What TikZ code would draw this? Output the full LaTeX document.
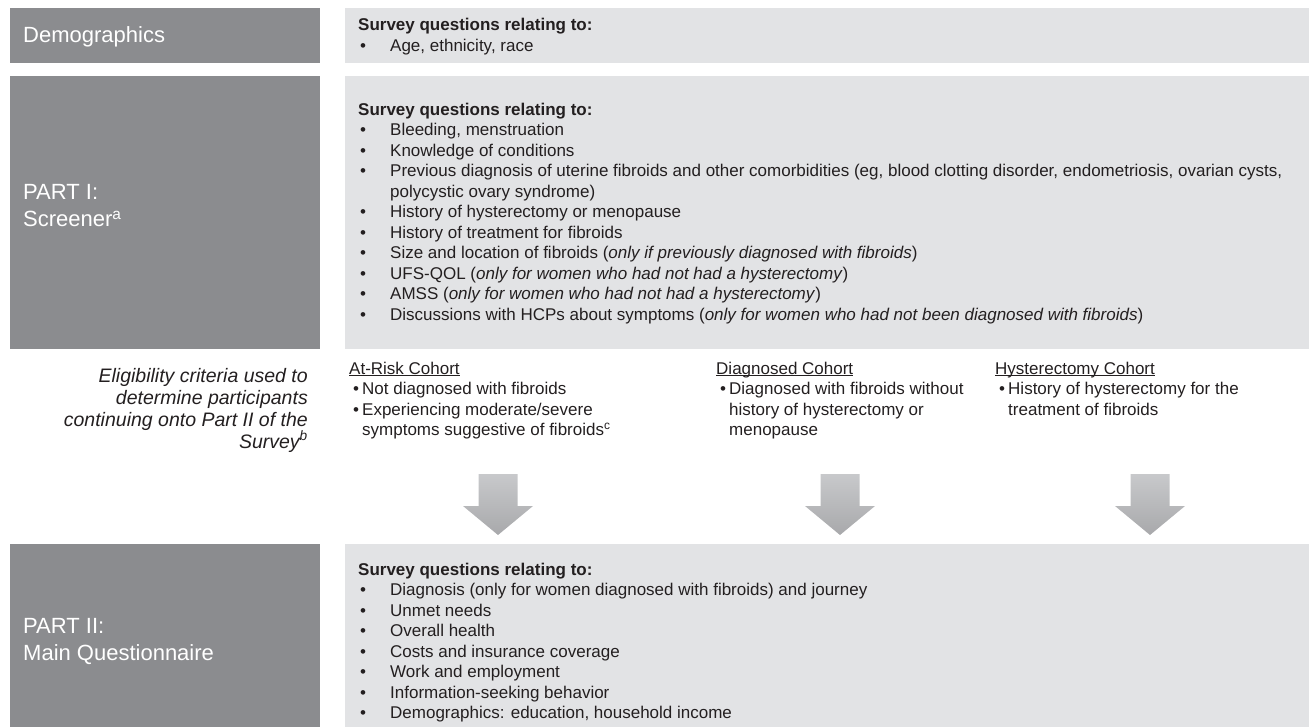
\documentclass[tikz,border=0pt]{standalone}
\usepackage{fontspec}
\setmainfont{Liberation Sans}
\definecolor{darkbox}{HTML}{8B8C8F}
\definecolor{lightbox}{HTML}{E2E3E5}
\definecolor{txt}{HTML}{231F20}
\newcommand\bl{\makebox[32pt][l]{\hspace{2pt}•}}
\newcommand\cb{\hspace*{4pt}\makebox[9pt][l]{•}}
\newcommand\myul[1]{\begingroup\setbox0\hbox{#1}\rlap{\rule[-2.2pt]{\wd0}{0.75pt}}\box0\endgroup}
\tikzset{
  darkrect/.style={fill=darkbox},
  lightrect/.style={fill=lightbox},
  body/.style={inner sep=0pt, anchor=base west, align=left, text=txt,
    font=\fontsize{17}{20.5}\selectfont},
  cohort/.style={inner sep=0pt, anchor=base west, align=left, text=txt,
    font=\fontsize{17}{20.5}\selectfont},
  partlabel/.style={inner sep=0pt, anchor=base west, align=left, text=white,
    font=\fontsize{22}{27}\selectfont},
  blockarrow/.style={top color=lightbox!70!darkbox, bottom color=darkbox!75!white},
}
\begin{document}
\begin{tikzpicture}[x=1pt,y=-1pt]
\useasboundingbox (0,0) rectangle (1309,727);
% boxes
\fill[darkrect] (10,8) rectangle (320,63);
\fill[lightrect] (345,8) rectangle (1309,63);
\fill[darkrect] (10,76) rectangle (320,349);
\fill[lightrect] (345,76) rectangle (1309,349);
\fill[darkrect] (10,544) rectangle (320,727);
\fill[lightrect] (345,544) rectangle (1309,727);
% left labels (anchor = baseline of the last line)
\node[partlabel] (demo) at (23,43) {Demographics};
\node[partlabel] (p1) at (23,227) {PART I:\\Screener\textsuperscript{a}};
\node[partlabel] (p2) at (23,660) {PART II:\\Main Questionnaire};
% right contents
\node[body, font=\fontsize{17}{21}\selectfont] (demotext) at (358,52) {\textbf{Survey questions relating to:}\\
\bl Age, ethnicity, race};
\node[body] (p1text) at (358,320) {\textbf{Survey questions relating to:}\\
\bl Bleeding, menstruation\\
\bl Knowledge of conditions\\
\bl Previous diagnosis of uterine fibroids and other comorbidities (eg, blood clotting disorder, endometriosis, ovarian cysts,\\
\hspace*{32pt}polycystic ovary syndrome)\\
\bl History of hysterectomy or menopause\\
\bl History of treatment for fibroids\\
\bl Size and location of fibroids (\textit{only if previously diagnosed with fibroids})\\
\bl UFS-QOL (\textit{only for women who had not had a hysterectomy})\\
\bl AMSS (\textit{only for women who had not had a hysterectomy})\\
\bl Discussions with HCPs about symptoms (\textit{only for women who had not been diagnosed with fibroids})};
\node[body] (p2text) at (358,718.5) {\textbf{Survey questions relating to:}\\
\bl Diagnosis (only for women diagnosed with fibroids) and journey\\
\bl Unmet needs\\
\bl Overall health\\
\bl Costs and insurance coverage\\
\bl Work and employment\\
\bl Information-seeking behavior\\
\bl Demographics: education, household income};
% eligibility
\node[body, anchor=base east, align=right, font=\fontsize{19.5}{22}\selectfont\itshape] (elig) at (308,448)
 {Eligibility criteria used to\\determine participants\\continuing onto Part II of the\\Survey\textsuperscript{b}};
% cohorts
\node[cohort] (atrisk) at (349,435.5) {\myul{At-Risk Cohort}\\
\cb Not diagnosed with fibroids\\
\cb Experiencing moderate/severe\\
\hspace*{13pt}symptoms suggestive of fibroids\textsuperscript{c}};
\node[cohort] (diag) at (716,435.5) {\myul{Diagnosed Cohort}\\
\cb Diagnosed with fibroids without\\
\hspace*{13pt}history of hysterectomy or\\
\hspace*{13pt}menopause};
\node[cohort] (hyst) at (995,415) {\myul{Hysterectomy Cohort}\\
\cb History of hysterectomy for the\\
\hspace*{13pt}treatment of fibroids};
% block arrows
\foreach \cx in {498,840,1150}{
  \shade[blockarrow] (\cx-19.5,474) -- (\cx+19.5,474) -- (\cx+19.5,506) -- (\cx+35,506)
    -- (\cx,535) -- (\cx-35,506) -- (\cx-19.5,506) -- cycle;
}
\end{tikzpicture}
\end{document}
